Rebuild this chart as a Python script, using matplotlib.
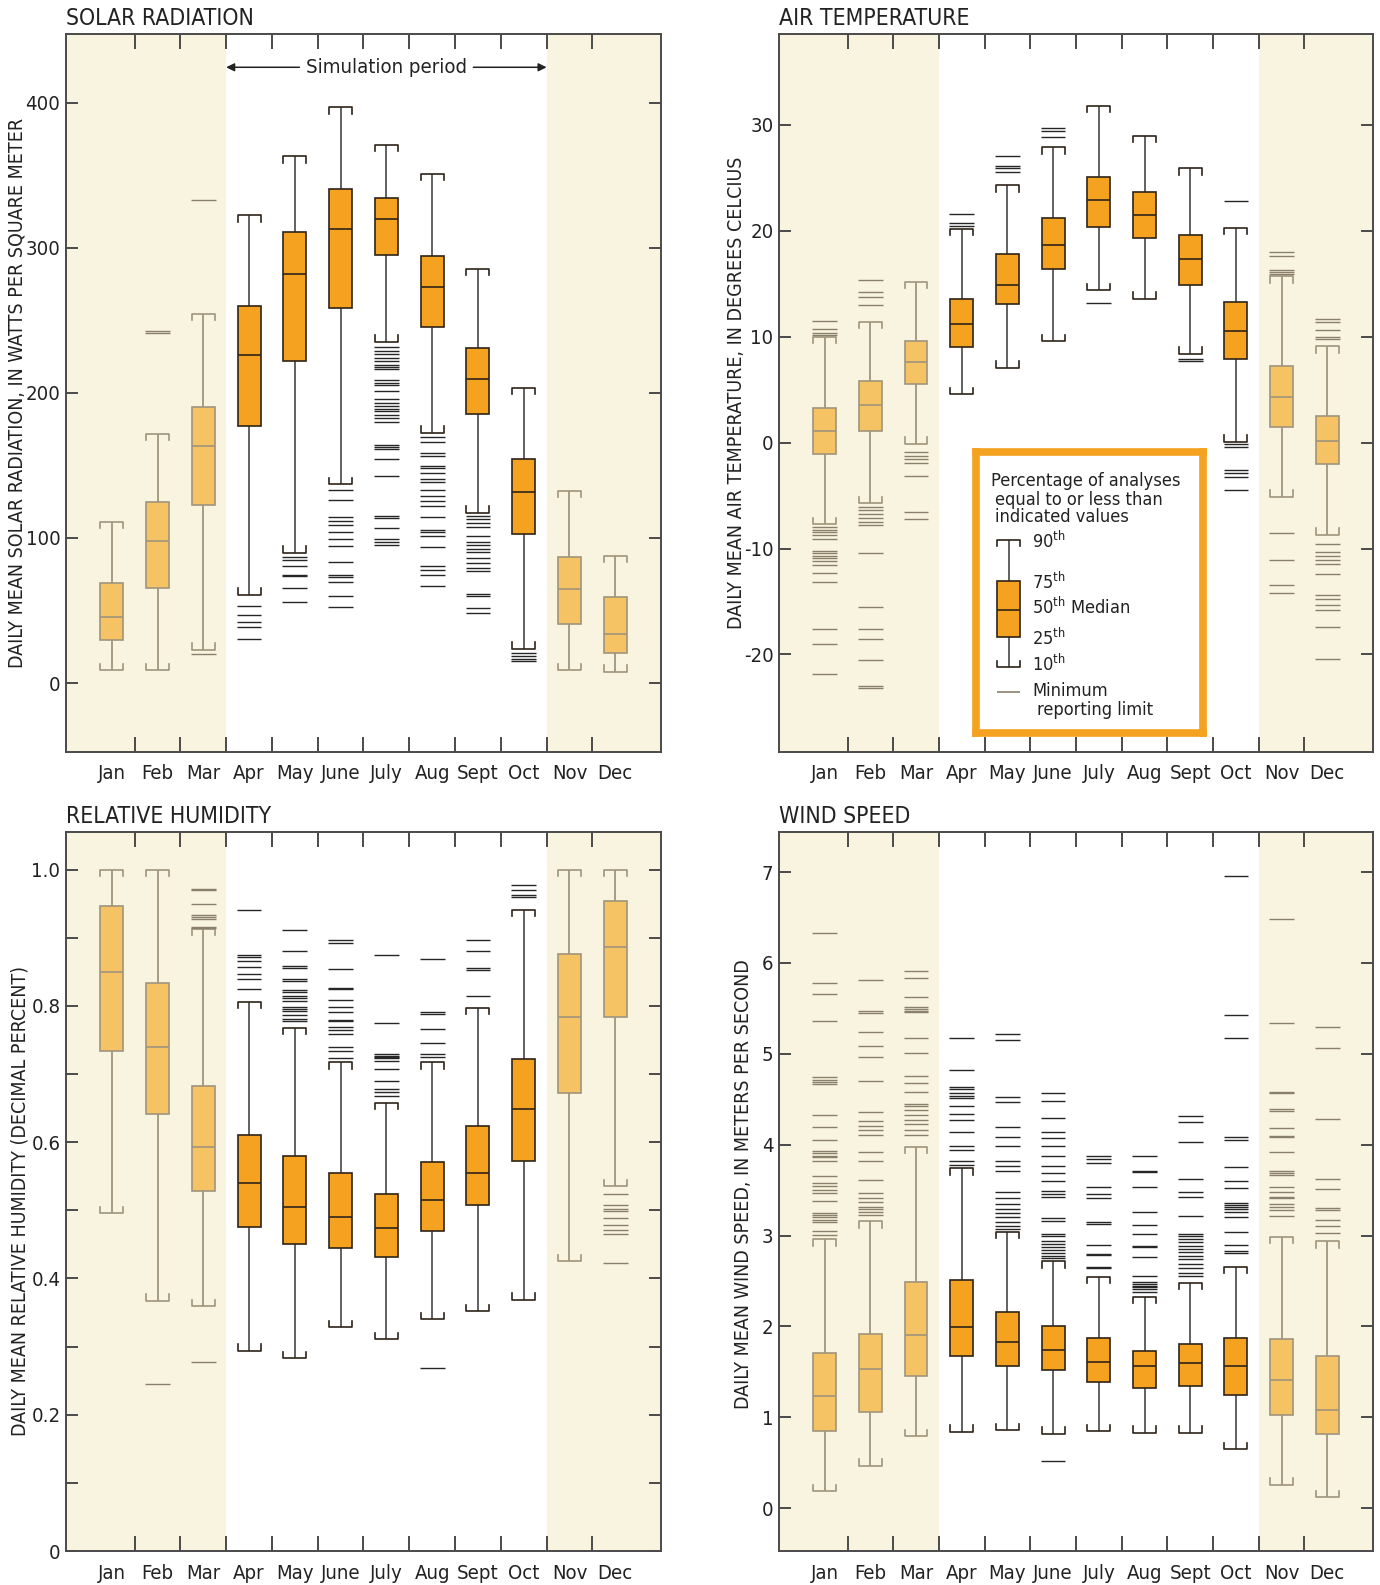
import matplotlib
matplotlib.use("Agg")
import matplotlib.pyplot as plt
from matplotlib import font_manager as fm
from matplotlib.ticker import FixedLocator, NullFormatter, FixedFormatter

# pick the narrowest sans available; the size factor keeps text widths similar
_fonts = fm.fontManager.ttflist
if any(f.name == 'Liberation Sans Narrow' for f in _fonts):
    FAMILY, STRETCH, FS = 'Liberation Sans Narrow', 'normal', 1.0
elif any(f.name == 'DejaVu Sans' and f.stretch == 'condensed' for f in _fonts):
    FAMILY, STRETCH, FS = 'DejaVu Sans', 'condensed', 0.97
else:
    FAMILY, STRETCH, FS = 'Liberation Sans', 'normal', 0.93

plt.rcParams['font.family'] = [FAMILY, 'DejaVu Sans']
plt.rcParams['font.stretch'] = STRETCH
plt.rcParams['mathtext.fontset'] = 'custom'
plt.rcParams['mathtext.rm'] = FAMILY
plt.rcParams['axes.unicode_minus'] = False

months = ['Jan', 'Feb', 'Mar', 'Apr', 'May', 'June', 'July', 'Aug', 'Sept', 'Oct', 'Nov', 'Dec']

# percentiles per month: 10th, 25th, 50th, 75th, 90th
solar_p10 = [8.8, 9.0, 23.0, 61.0, 89.7, 137.2, 235.3, 172.6, 117.5, 23.7, 8.8, 7.9]
solar_p25 = [30.0, 65.3, 123.0, 177.5, 221.7, 258.5, 294.8, 245.2, 185.2, 102.8, 40.5, 20.7]
solar_p50 = [45.8, 98.0, 163.4, 226.0, 281.7, 313.3, 319.6, 273.2, 209.4, 131.7, 64.6, 33.8]
solar_p75 = [69.0, 125.0, 190.6, 259.9, 311.0, 340.3, 334.6, 294.5, 231.2, 154.6, 86.9, 59.6]
solar_p90 = [111.0, 171.7, 254.5, 322.6, 363.0, 397.0, 371.0, 351.2, 285.5, 203.7, 132.7, 87.8]
solar_out = [
    [],
    [242.6, 241.0],
    [333.0, 20.3],
    [53.2, 47.1, 41.9, 38.9, 30.3],
    [87.0, 84.8, 80.7, 74.4, 73.9, 65.7, 55.6],
    [132.8, 126.3, 114.8, 111.5, 108.8, 104.4, 99.0, 94.6, 83.4, 74.4, 72.8, 69.5, 60.3, 52.3],
    [231.5, 228.8, 226.6, 224.4, 222.2, 219.5, 217.9, 216.2, 209.2, 207.0, 205.3, 201.5,
     195.5, 193.3, 191.2, 189.0, 187.3, 184.6, 182.4, 180.2, 164.4, 162.8, 161.2, 154.6,
     142.6, 115.3, 113.7, 107.2, 99.0, 97.4, 95.2],
    [169.9, 166.1, 158.4, 156.8, 149.7, 148.1, 144.8, 141.0, 138.8, 133.3, 129.0, 125.2,
     121.9, 114.8, 105.5, 103.9, 101.7, 94.1, 81.0, 77.7, 74.4, 66.8],
    [115.3, 113.2, 110.4, 107.7, 101.7, 97.3, 95.2, 92.4, 90.3, 86.4, 82.6, 79.3, 77.2,
     61.3, 59.7, 51.5, 48.3],
    [21.0, 18.3, 16.6, 15.0],
    [],
    [],
]

temp_p10 = [-7.7, -5.7, -0.1, 4.6, 7.1, 9.6, 14.4, 13.6, 8.4, 0.1, -5.1, -8.7]
temp_p25 = [-1.1, 1.1, 5.5, 9.0, 13.1, 16.4, 20.4, 19.3, 14.9, 7.9, 1.5, -2.0]
temp_p50 = [1.1, 3.6, 7.6, 11.2, 14.9, 18.7, 22.9, 21.5, 17.3, 10.5, 4.3, 0.2]
temp_p75 = [3.3, 5.8, 9.6, 13.6, 17.8, 21.2, 25.1, 23.7, 19.6, 13.3, 7.2, 2.5]
temp_p90 = [10.0, 11.4, 15.2, 20.2, 24.3, 27.9, 31.8, 29.0, 25.9, 20.3, 15.7, 9.1]
temp_out = [
    [11.5, 10.75, 10.4, 10.2, -8.0, -8.25, -8.47, -8.69, -9.13, -10.2, -10.45, -10.67,
     -10.9, -11.2, -11.55, -12.3, -13.2, -17.6, -19.0, -21.8],
    [15.4, 14.2, 13.8, 13.0, -6.06, -6.36, -6.7, -7.07, -7.46, -7.8, -10.45, -15.5,
     -17.6, -18.5, -20.5, -23.0, -23.2],
    [-0.88, -1.27, -1.54, -1.89, -3.16, -6.5, -7.2],
    [21.6, 20.7, 20.5],
    [27.1, 26.1, 25.9, 25.6],
    [29.7, 29.4, 28.9],
    [13.2],
    [],
    [7.95, 7.7],
    [22.8, -0.13, -0.44, -2.59, -2.9, -3.2, -4.5],
    [18.0, 17.6, 16.3, 16.1, 15.9, -8.5, -11.1, -13.4, -14.2],
    [11.7, 11.4, 10.6, 10.0, 9.75, -9.6, -10.3, -10.7, -11.1, -11.5, -12.4, -14.4, -14.8,
     -15.3, -15.8, -17.4, -20.4],
]

rh_p10 = [0.496, 0.367, 0.359, 0.294, 0.283, 0.328, 0.311, 0.340, 0.352, 0.369, 0.425, 0.535]
rh_p25 = [0.733, 0.641, 0.529, 0.475, 0.451, 0.445, 0.431, 0.470, 0.508, 0.572, 0.672, 0.784]
rh_p50 = [0.850, 0.740, 0.593, 0.540, 0.505, 0.490, 0.474, 0.515, 0.555, 0.649, 0.784, 0.886]
rh_p75 = [0.947, 0.833, 0.682, 0.611, 0.579, 0.554, 0.524, 0.571, 0.624, 0.722, 0.876, 0.954]
rh_p90 = [1.0, 1.0, 0.913, 0.806, 0.768, 0.717, 0.658, 0.717, 0.797, 0.941, 1.0, 1.0]
rh_out = [
    [],
    [0.245],
    [0.972, 0.970, 0.949, 0.934, 0.930, 0.928, 0.916, 0.914, 0.277],
    [0.940, 0.874, 0.872, 0.866, 0.857, 0.847, 0.839, 0.825],
    [0.911, 0.880, 0.858, 0.856, 0.840, 0.837, 0.823, 0.821, 0.815, 0.811, 0.807, 0.799,
     0.795, 0.792, 0.786, 0.781, 0.777],
    [0.897, 0.892, 0.854, 0.826, 0.824, 0.809, 0.799, 0.791, 0.779, 0.777, 0.769, 0.764,
     0.758, 0.739, 0.734, 0.724],
    [0.874, 0.775, 0.730, 0.727, 0.725, 0.723, 0.719, 0.707, 0.689, 0.678, 0.674, 0.668],
    [0.868, 0.791, 0.788, 0.766, 0.745, 0.730, 0.725, 0.268],
    [0.896, 0.880, 0.855, 0.853, 0.815],
    [0.978, 0.970, 0.963, 0.960],
    [],
    [0.524, 0.508, 0.502, 0.499, 0.488, 0.478, 0.471, 0.465, 0.422],
]

wind_p10 = [0.19, 0.47, 0.79, 0.84, 0.86, 0.82, 0.85, 0.83, 0.83, 0.65, 0.26, 0.12]
wind_p25 = [0.85, 1.06, 1.45, 1.68, 1.57, 1.52, 1.39, 1.32, 1.35, 1.25, 1.03, 0.82]
wind_p50 = [1.23, 1.53, 1.91, 1.99, 1.83, 1.74, 1.61, 1.57, 1.60, 1.57, 1.41, 1.08]
wind_p75 = [1.71, 1.92, 2.49, 2.51, 2.16, 2.01, 1.87, 1.73, 1.81, 1.87, 1.86, 1.68]
wind_p90 = [2.96, 3.16, 3.98, 3.74, 3.04, 2.72, 2.55, 2.33, 2.48, 2.66, 2.99, 2.94]
wind_out = [
    [6.33, 5.78, 5.66, 5.36, 4.74, 4.71, 4.69, 4.67, 4.33, 4.20, 4.05, 3.93, 3.91, 3.88,
     3.86, 3.82, 3.66, 3.58, 3.55, 3.50, 3.47, 3.38, 3.25, 3.23, 3.20, 3.17, 3.15, 3.05, 3.01],
    [5.81, 5.47, 5.45, 5.24, 5.09, 4.96, 4.70, 4.36, 4.26, 4.21, 4.16, 4.11, 3.92, 3.82,
     3.61, 3.47, 3.41, 3.37, 3.31, 3.29, 3.26, 3.23],
    [5.91, 5.83, 5.62, 5.52, 5.49, 5.47, 5.46, 5.17, 5.01, 4.76, 4.68, 4.58, 4.45, 4.43,
     4.38, 4.33, 4.27, 4.23, 4.16, 4.11],
    [5.17, 4.82, 4.64, 4.61, 4.57, 4.54, 4.51, 4.43, 4.34, 4.27, 4.14, 3.99, 3.94, 3.82, 3.78],
    [5.22, 5.15, 4.52, 4.47, 4.20, 4.09, 3.99, 3.82, 3.77, 3.71, 3.48, 3.41, 3.35, 3.29,
     3.25, 3.20, 3.15, 3.11, 3.07],
    [4.57, 4.48, 4.29, 4.14, 4.07, 3.99, 3.88, 3.77, 3.69, 3.60, 3.49, 3.46, 3.43, 3.19,
     3.16, 3.02, 3.00, 2.94, 2.91, 2.88, 2.84, 2.81, 2.78, 2.75, 0.52],
    [3.88, 3.84, 3.80, 3.53, 3.46, 3.41, 3.15, 3.13, 2.90, 2.80, 2.79, 2.66, 2.64],
    [3.88, 3.71, 3.70, 3.53, 3.26, 3.12, 3.02, 2.89, 2.88, 2.76, 2.56, 2.49, 2.47, 2.45,
     2.43, 2.41, 2.38],
    [4.32, 4.25, 4.03, 3.62, 3.48, 3.42, 3.22, 3.02, 3.00, 2.96, 2.93, 2.89, 2.85, 2.82,
     2.78, 2.74, 2.69, 2.64, 2.59, 2.56],
    [6.96, 5.43, 5.17, 4.08, 4.05, 3.75, 3.60, 3.52, 3.36, 3.34, 3.32, 3.29, 3.26, 3.21,
     3.04, 2.90, 2.83, 2.81],
    [6.48, 5.34, 4.58, 4.57, 4.39, 4.37, 4.18, 4.10, 4.09, 3.92, 3.71, 3.69, 3.67, 3.53,
     3.48, 3.43, 3.41, 3.35, 3.31, 3.28, 3.22],
    [5.29, 5.06, 4.28, 3.62, 3.51, 3.30, 3.28, 3.17, 3.11, 3.03],
]

SHADE = '#f9f4df'
LIGHT_FILL = '#f5c264'
LIGHT_EDGE = '#a0947c'
LIGHT_OUT = '#8a7f6a'
DARK_FILL = '#f4a21f'
DARK_EDGE = '#2e2418'
DARK_WHISK = '#555555'
DARK_OUT = '#262626'
AXIS_COL = '#4a4a4a'
TEXT_COL = '#222222'

x_pos = list(range(1, 13))
BOX_W = 0.5
OUT_W = 0.54


def draw_boxes(ax, p10, p25, p50, p75, p90, outliers, ylim):
    cap_d = (ylim[1] - ylim[0]) * 0.009
    for i, x in enumerate(x_pos):
        sim = 4 <= x <= 10
        fill = DARK_FILL if sim else LIGHT_FILL
        edge = DARK_EDGE if sim else LIGHT_EDGE
        whisk = DARK_WHISK if sim else LIGHT_EDGE
        outc = DARK_OUT if sim else LIGHT_OUT
        h = BOX_W / 2
        ax.vlines(x, p10[i], p25[i], color=whisk, lw=1.3, zorder=3)
        ax.vlines(x, p75[i], p90[i], color=whisk, lw=1.3, zorder=3)
        ax.plot([x - h, x - h, x + h, x + h],
                [p90[i] - cap_d, p90[i], p90[i], p90[i] - cap_d],
                color=edge, lw=1.2, zorder=3)
        ax.plot([x - h, x - h, x + h, x + h],
                [p10[i] + cap_d, p10[i], p10[i], p10[i] + cap_d],
                color=edge, lw=1.2, zorder=3)
        ax.bar(x, p75[i] - p25[i], bottom=p25[i], width=BOX_W, color=fill,
               edgecolor=edge, linewidth=1.2, zorder=4)
        ax.hlines(p50[i], x - h, x + h, color=edge, lw=1.2, zorder=5)
        if outliers[i]:
            ax.hlines(outliers[i], x - OUT_W / 2, x + OUT_W / 2, color=outc,
                      lw=1.0, zorder=3)


def style_axes(ax, ylim, yticks, ylabels, minor=None):
    ax.set_xlim(0, 13)
    ax.set_ylim(*ylim)
    ax.axvspan(0, 3.5, color=SHADE, lw=0, zorder=0)
    ax.axvspan(10.5, 13, color=SHADE, lw=0, zorder=0)
    for s in ax.spines.values():
        s.set_color(AXIS_COL)
        s.set_linewidth(1.4)
    ax.xaxis.set_major_locator(FixedLocator([i + 0.5 for i in range(1, 12)]))
    ax.xaxis.set_major_formatter(NullFormatter())
    ax.xaxis.set_minor_locator(FixedLocator(x_pos))
    ax.xaxis.set_minor_formatter(FixedFormatter(months))
    ax.tick_params(axis='x', which='major', direction='in', length=10.5, width=1.4,
                   color=AXIS_COL, top=True, bottom=True)
    ax.tick_params(axis='x', which='minor', length=0, labelsize=15 * FS, pad=9,
                   labelcolor=TEXT_COL)
    ax.set_yticks(yticks)
    ax.set_yticklabels(ylabels)
    if minor is not None:
        ax.set_yticks(minor, minor=True)
    ax.tick_params(axis='y', which='both', direction='in', length=8.5, width=1.4,
                   color=AXIS_COL, left=True, right=True, labelsize=15 * FS, pad=4,
                   labelcolor=TEXT_COL)


fig = plt.figure(figsize=(13.8, 15.85), dpi=100)
ax_sr = fig.add_axes([0.0478, 0.5256, 0.4312, 0.4530])
ax_at = fig.add_axes([0.5645, 0.5256, 0.4304, 0.4530])
ax_rh = fig.add_axes([0.0478, 0.02145, 0.4312, 0.4536])
ax_ws = fig.add_axes([0.5645, 0.02145, 0.4304, 0.4536])

# solar radiation
sr_lim = (-47.5, 447.5)
style_axes(ax_sr, sr_lim, [0, 100, 200, 300, 400], ['0', '100', '200', '300', '400'])
draw_boxes(ax_sr, solar_p10, solar_p25, solar_p50, solar_p75, solar_p90, solar_out, sr_lim)
ax_sr.text(7.0, 424.5, 'Simulation period', ha='center', va='center', fontsize=15 * FS,
           color=TEXT_COL)
ax_sr.annotate('', xy=(3.5, 424.5), xytext=(5.1, 424.5),
               arrowprops=dict(arrowstyle='-|>', color=TEXT_COL, lw=1.1,
                               mutation_scale=12, shrinkA=0, shrinkB=0))
ax_sr.annotate('', xy=(10.5, 424.5), xytext=(8.9, 424.5),
               arrowprops=dict(arrowstyle='-|>', color=TEXT_COL, lw=1.1,
                               mutation_scale=12, shrinkA=0, shrinkB=0))
ax_sr.set_ylabel('DAILY MEAN SOLAR RADIATION, IN WATTS PER SQUARE METER',
                 fontsize=14.5 * FS, color=TEXT_COL)
ax_sr.yaxis.set_label_coords(-0.066, 0.5)

# air temperature
at_lim = (-29.2, 38.6)
style_axes(ax_at, at_lim, [-20, -10, 0, 10, 20, 30], ['-20', '-10', '0', '10', '20', '30'])
draw_boxes(ax_at, temp_p10, temp_p25, temp_p50, temp_p75, temp_p90, temp_out, at_lim)
ax_at.set_ylabel('DAILY MEAN AIR TEMPERATURE, IN DEGREES CELCIUS', fontsize=14.5 * FS,
                 color=TEXT_COL)
ax_at.yaxis.set_label_coords(-0.056, 0.5)

# relative humidity
rh_lim = (0, 1.055)
style_axes(ax_rh, rh_lim, [0, 0.2, 0.4, 0.6, 0.8, 1.0], ['0', '0.2', '0.4', '0.6', '0.8', '1.0'],
           minor=[0.1, 0.3, 0.5, 0.7, 0.9])
draw_boxes(ax_rh, rh_p10, rh_p25, rh_p50, rh_p75, rh_p90, rh_out, rh_lim)
ax_rh.set_ylabel('DAILY MEAN RELATIVE HUMIDITY (DECIMAL PERCENT)', fontsize=14.5 * FS,
                 color=TEXT_COL)
ax_rh.yaxis.set_label_coords(-0.061, 0.487)

# wind speed
ws_lim = (-0.47, 7.44)
style_axes(ax_ws, ws_lim, list(range(8)), [str(v) for v in range(8)])
draw_boxes(ax_ws, wind_p10, wind_p25, wind_p50, wind_p75, wind_p90, wind_out, ws_lim)
ax_ws.set_ylabel('DAILY MEAN WIND SPEED, IN METERS PER SECOND', fontsize=14.5 * FS,
                 color=TEXT_COL)
ax_ws.yaxis.set_label_coords(-0.044, 0.51)

for ax, title in [(ax_sr, 'SOLAR RADIATION'), (ax_at, 'AIR TEMPERATURE'),
                  (ax_rh, 'RELATIVE HUMIDITY'), (ax_ws, 'WIND SPEED')]:
    ax.text(0.0, 1.013, title, transform=ax.transAxes, ha='left', va='baseline',
            fontsize=17 * FS, color=TEXT_COL)

# explanation box
lg = ax_at.inset_axes([0.332, 0.026, 0.382, 0.392])
lg.set_xlim(0, 1)
lg.set_ylim(0, 1)
lg.set_xticks([])
lg.set_yticks([])
lg.set_facecolor('white')
lg.set_zorder(10)
for s in lg.spines.values():
    s.set_color(DARK_FILL)
    s.set_linewidth(5.5)
lg_txt = dict(fontsize=13.5 * FS, color=TEXT_COL, va='center', ha='left')
lg.text(0.065, 0.898, 'Percentage of analyses', **lg_txt)
lg.text(0.084, 0.829, 'equal to or less than', **lg_txt)
lg.text(0.084, 0.769, 'indicated values', **lg_txt)
bx0, bx1, bxc = 0.0925, 0.194, 0.143
lg.vlines(bxc, 0.236, 0.687, color=DARK_WHISK, lw=1.3)
lg.plot([bx0, bx0, bx1, bx1], [0.665, 0.687, 0.687, 0.665], color=DARK_EDGE, lw=1.2)
lg.plot([bx0, bx0, bx1, bx1], [0.258, 0.236, 0.236, 0.258], color=DARK_EDGE, lw=1.2)
lg.bar(bxc, 0.542 - 0.342, bottom=0.342, width=bx1 - bx0, color=DARK_FILL,
       edgecolor=DARK_EDGE, linewidth=1.2, zorder=3)
lg.hlines(0.437, bx0, bx1, color=DARK_EDGE, lw=1.2, zorder=4)
lg.hlines(0.147, bx0, bx1, color=LIGHT_OUT, lw=1.2)
lg.text(0.247, 0.681, r'90$^{\mathrm{th}}$', **lg_txt)
lg.text(0.247, 0.537, r'75$^{\mathrm{th}}$', **lg_txt)
lg.text(0.247, 0.448, r'50$^{\mathrm{th}}$ Median', **lg_txt)
lg.text(0.247, 0.336, r'25$^{\mathrm{th}}$', **lg_txt)
lg.text(0.247, 0.247, r'10$^{\mathrm{th}}$', **lg_txt)
lg.text(0.247, 0.150, 'Minimum', **lg_txt)
lg.text(0.269, 0.082, 'reporting limit', **lg_txt)

fig.savefig('out.png', dpi=100)
